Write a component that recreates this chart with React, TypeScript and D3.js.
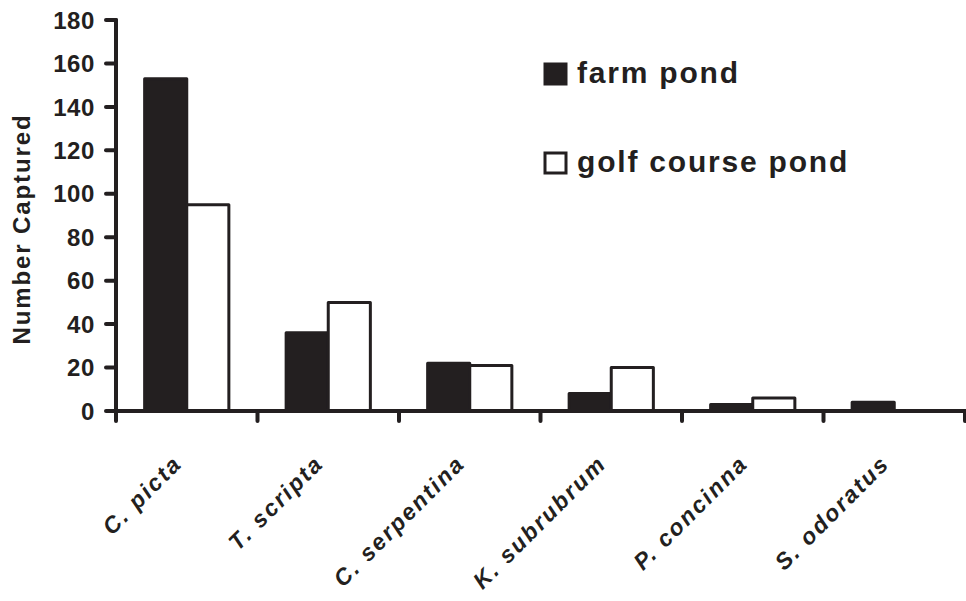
import React from "react";
import * as d3 from "d3";

// Turtle captures by species at two pond types
const species = ["C. picta", "T. scripta", "C. serpentina", "K. subrubrum", "P. concinna", "S. odoratus"];
const farmPond = [153, 36, 22, 8, 3, 4];
const golfCoursePond = [95, 50, 21, 20, 6, 0];
const seriesNames = ["farm pond", "golf course pond"];
const yTicks = [0, 20, 40, 60, 80, 100, 120, 140, 160, 180];

const W = 966;
const H = 601;
const INK = "#231f20";
const FONT = "'Liberation Sans', Arial, Helvetica, sans-serif";

export default function App() {
  const x = d3.scaleBand<string>().domain(species).range([116, 965]).paddingInner(0).paddingOuter(0);
  const sub = d3
    .scaleBand<string>()
    .domain(seriesNames)
    .range([0, x.bandwidth()])
    .paddingInner(0)
    .paddingOuter(0.68);
  const y = d3.scaleLinear().domain([0, 180]).range([411, 20]);

  const rows = species.map((s, i) => ({ s, values: [farmPond[i], golfCoursePond[i]] }));
  const fills = [INK, "#ffffff"];
  const boundaries = species.map((s) => x(s) as number).concat([x.range()[1]]);

  return (
    <svg
      width={W}
      height={H}
      viewBox={`0 0 ${W} ${H}`}
      style={{ position: "absolute", left: 0, top: 0, background: "#fff" }}
      fontFamily={FONT}
      fontWeight="bold"
    >
      {/* bars */}
      {rows.map((r) => (
        <g key={r.s} transform={`translate(${x(r.s)},0)`}>
          {r.values.map((v, k) =>
            v > 0 ? (
              <rect
                key={k}
                x={sub(seriesNames[k])}
                y={y(v)}
                width={sub.bandwidth()}
                height={y(0) - y(v)}
                fill={fills[k]}
                stroke={INK}
                strokeWidth={3}
                strokeLinejoin="round"
              />
            ) : null
          )}
        </g>
      ))}

      {/* y axis */}
      <line x1={x.range()[0]} x2={x.range()[0]} y1={y(180)} y2={y(0)} stroke={INK} strokeWidth={4} strokeLinecap="round" />
      {yTicks.map((t) => (
        <g key={t}>
          <line x1={x.range()[0] - 10} x2={x.range()[0]} y1={y(t)} y2={y(t)} stroke={INK} strokeWidth={4} strokeLinecap="round" />
          <text x={95} y={y(t)} dy="0.36em" textAnchor="end" fontSize={24} letterSpacing={0.6} fill={INK}>
            {t}
          </text>
        </g>
      ))}
      <text
        transform={`translate(30,${229}) rotate(-90)`}
        textAnchor="middle"
        fontSize={24}
        letterSpacing={1.9}
        fill={INK}
      >
        Number Captured
      </text>

      {/* x axis */}
      <line x1={x.range()[0]} x2={W} y1={y(0)} y2={y(0)} stroke={INK} strokeWidth={4} />
      {boundaries.map((b, i) => (
        <line key={i} x1={b} x2={b} y1={y(0)} y2={y(0) + 10} stroke={INK} strokeWidth={4} strokeLinecap="round" />
      ))}
      {species.map((s) => (
        <text
          key={s}
          transform={`translate(${(x(s) as number) + x.bandwidth() / 2 - 3.5},465) rotate(-45)`}
          textAnchor="end"
          fontSize={23}
          fontStyle="italic"
          letterSpacing={2.2}
          fill={INK}
        >
          {s}
        </text>
      ))}

      {/* legend */}
      {seriesNames.map((n, k) => (
        <g key={n} transform={`translate(545,${64 + k * 89})`}>
          <rect x={0} y={0} width={21} height={20} fill={fills[k]} stroke={INK} strokeWidth={3} />
          <text x={32} y={19} fontSize={30} letterSpacing={1.8} fill={INK}>
            {n}
          </text>
        </g>
      ))}
    </svg>
  );
}
